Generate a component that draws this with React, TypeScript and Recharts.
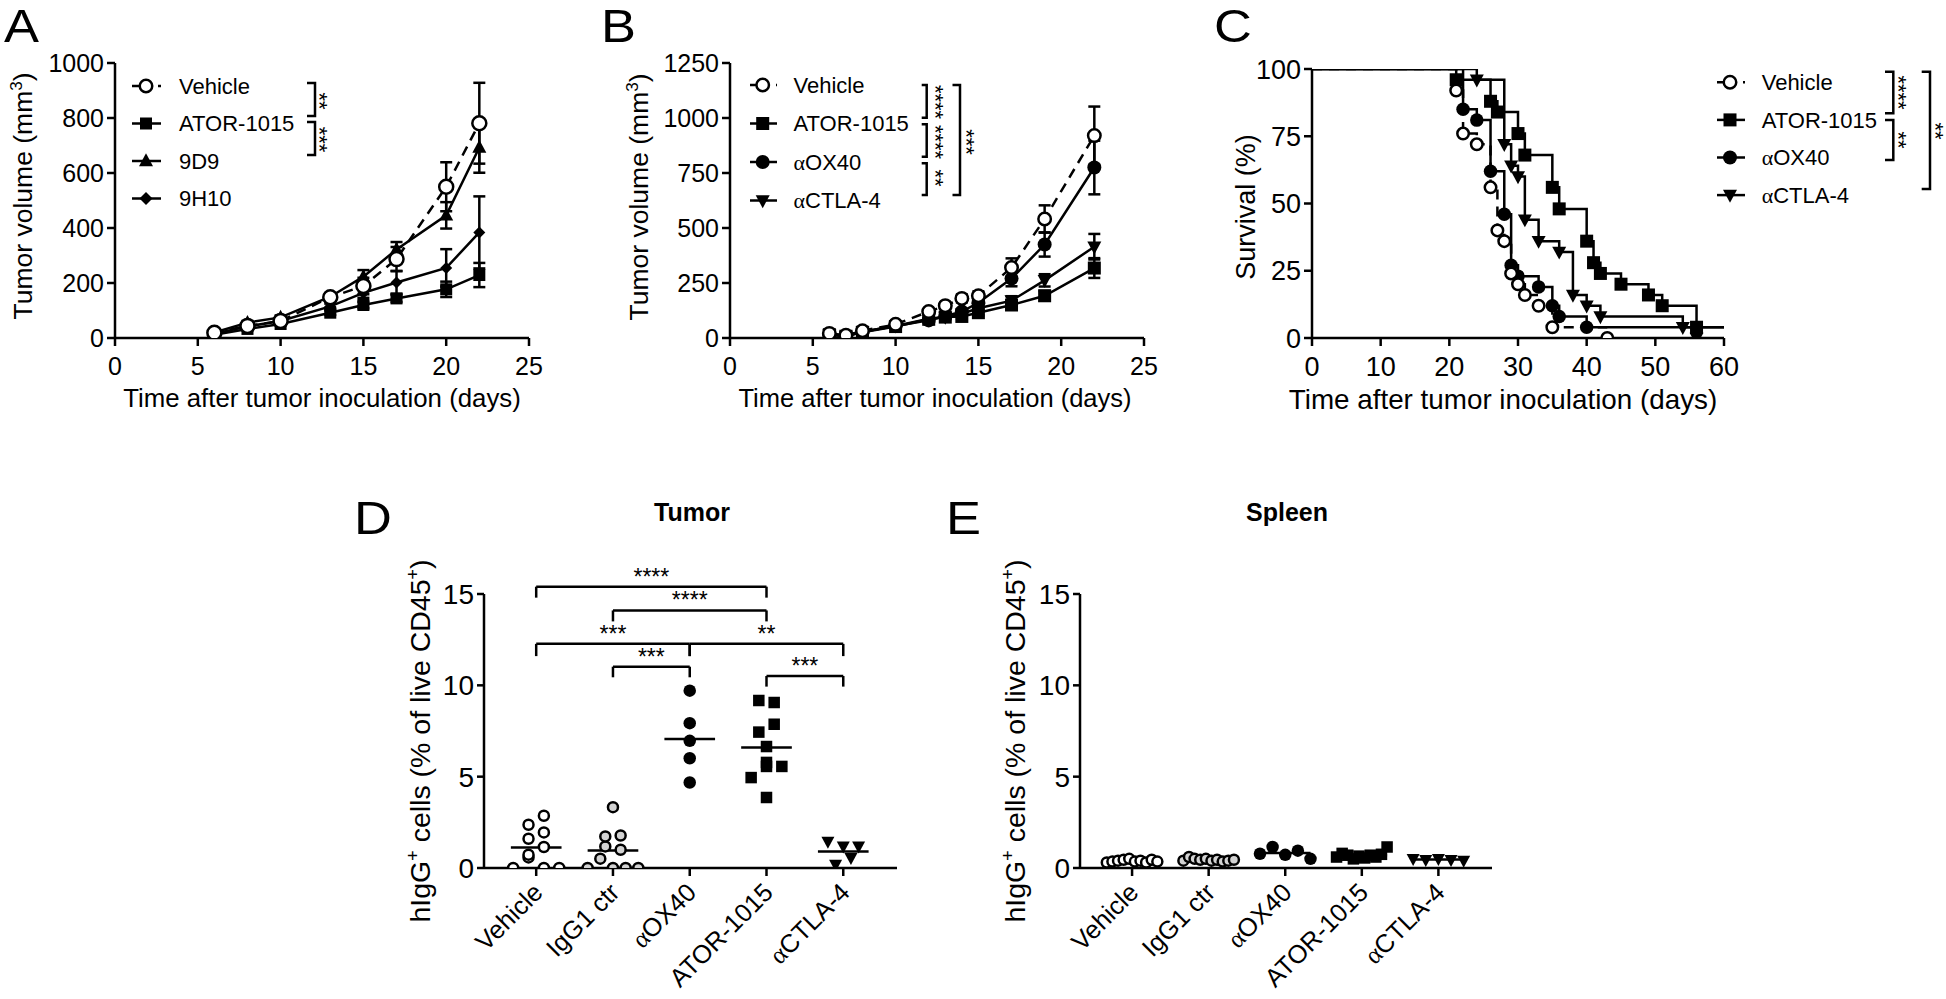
import React from 'react';
import { LineChart, Line, XAxis, YAxis, ErrorBar, ScatterChart, Scatter, ReferenceLine, Legend } from 'recharts';

const FONT = '"Liberation Sans", Arial, Helvetica, sans-serif';
const SERIF = '"Liberation Serif", "Times New Roman", serif';
const SW = 2.5;
const INK = '#000';

// ===== Panel A : tumour volume (mean ± SEM) =====
const daysA = [6, 8, 10, 13, 15, 17, 20, 22];
const vehicleA = [19, 44, 62, 148, 189, 287, 550, 781];
const vehicleAErr = [3, 5, 6, 12, 30, 44, 89, 147];
const atorA = [12, 33, 51, 92, 120, 144, 177, 229];
const atorAErr = [2, 4, 5, 8, 12, 13, 28, 44];
const d9A = [20, 56, 75, 150, 223, 322, 446, 693];
const d9AErr = [3, 6, 7, 12, 24, 27, 48, 92];
const h10A = [16, 42, 62, 115, 164, 202, 255, 384];
const h10AErr = [2, 5, 6, 10, 18, 42, 68, 131];
const xTicksAB = [0, 5, 10, 15, 20, 25];
const yTicksA = [0, 200, 400, 600, 800, 1000];

// ===== Panel B =====
const daysB = [6, 7, 8, 10, 12, 13, 14, 15, 17, 19, 22];
const vehicleB = [21, 12, 33, 62, 120, 147, 180, 192, 320, 541, 920];
const vehicleBErr = [4, 3, 5, 8, 12, 15, 18, 20, 42, 62, 132];
const atorB = [15, 8, 26, 52, 85, 95, 98, 115, 150, 192, 318];
const atorBErr = [3, 2, 4, 6, 8, 10, 10, 12, 18, 22, 45];
const ox40B = [16, 9, 28, 55, 80, 100, 120, 160, 270, 425, 775];
const ox40BErr = [3, 2, 4, 6, 8, 10, 12, 18, 35, 55, 122];
const ctla4B = [16, 9, 28, 55, 88, 95, 110, 135, 170, 262, 415];
const ctla4BErr = [3, 2, 4, 6, 8, 10, 12, 14, 20, 28, 58];
const yTicksB = [0, 250, 500, 750, 1000, 1250];

// ===== Panel C : survival =====
const vehicleCDays = [0, 21, 22, 24, 26, 27, 28, 29, 30, 31, 33, 35, 43];
const vehicleCSurv = [100, 92, 76, 72, 56, 40, 36, 24, 20, 16, 12, 4, 0];
const atorCDays = [0, 21, 26, 27, 30, 31, 35, 36, 40, 41, 42, 45, 49, 51, 56, 60];
const atorCSurv = [100, 96, 88, 84, 76, 68, 56, 48, 36, 28, 24, 20, 16, 12, 4, 4];
const ox40CDays = [0, 22, 24, 26, 28, 29, 30, 33, 35, 36, 40, 60];
const ox40CSurv = [100, 85, 81, 62, 46, 27, 23, 19, 12, 8, 4, 4];
const ctla4CDays = [0, 24, 28, 29, 30, 31, 33, 36, 38, 40, 42, 54, 56];
const ctla4CSurv = [100, 96, 72, 64, 60, 44, 36, 32, 16, 12, 8, 4, 0];
const xTicksC = [0, 10, 20, 30, 40, 50, 60];
const yTicksC = [0, 25, 50, 75, 100];

// ===== Panels D / E : hIgG+ cells =====
const groupsDE = ['Vehicle', 'IgG1 ctr', 'αOX40', 'ATOR-1015', 'αCTLA-4'];
const tumorVehicle = [0, 0.58, 0, 0, 0.73, 1.15, 1.6, 1.95, 2.37, 2.86];
const tumorIgG1 = [0, 0.51, 0, 0, 0, 1.18, 1.0, 1.73, 1.78, 3.33];
const tumorOX40 = [4.68, 6.01, 6.96, 7.93, 9.71];
const tumorATOR = [3.86, 4.95, 5.56, 5.78, 5.56, 6.65, 7.44, 7.87, 9.17, 9.06];
const tumorCTLA4 = [1.45, 1.18, 1.18, 0.18, 0.55];
const spleenVehicle = [0.3, 0.35, 0.4, 0.45, 0.5, 0.35, 0.4, 0.3, 0.45, 0.35];
const spleenIgG1 = [0.4, 0.6, 0.5, 0.45, 0.5, 0.4, 0.45, 0.35, 0.4, 0.45];
const spleenOX40 = [0.78, 1.15, 0.72, 0.95, 0.5];
const spleenATOR = [0.6, 0.8, 0.7, 0.5, 0.65, 0.55, 0.7, 0.6, 0.75, 1.15];
const spleenCTLA4 = [0.5, 0.45, 0.5, 0.45, 0.4];
const yTicksDE = [0, 5, 10, 15];
const tumorSig = [
  { from: 0, to: 3, top: 15.4, leg: 14.8, stars: '****' },
  { from: 1, to: 3, top: 14.1, leg: 13.5, stars: '****' },
  { from: 0, to: 2, top: 12.27, leg: 11.6, stars: '***' },
  { from: 2, to: 4, top: 12.27, leg: 11.6, stars: '**' },
  { from: 1, to: 2, top: 11.02, leg: 10.44, stars: '***' },
  { from: 3, to: 4, top: 10.51, leg: 9.93, stars: '***' },
];

type Kind = 'open' | 'filled' | 'grey' | 'square' | 'triUp' | 'triDown' | 'diamond';

function Mark({ kind, cx, cy, s }: { kind: Kind; cx: number; cy: number; s: number }) {
  const h = s / 2;
  switch (kind) {
    case 'open':
      return <circle cx={cx} cy={cy} r={h - SW / 2} fill="#fff" stroke={INK} strokeWidth={SW} />;
    case 'grey':
      return <circle cx={cx} cy={cy} r={h - SW / 2} fill="#d2d2d2" stroke={INK} strokeWidth={SW} />;
    case 'filled':
      return <circle cx={cx} cy={cy} r={h} fill={INK} />;
    case 'square':
      return <rect x={cx - h} y={cy - h} width={s} height={s} fill={INK} />;
    case 'triUp':
      return <polygon points={`${cx},${cy - h * 1.1} ${cx - h},${cy + h * 0.75} ${cx + h},${cy + h * 0.75}`} fill={INK} />;
    case 'triDown':
      return <polygon points={`${cx},${cy + h * 1.1} ${cx - h},${cy - h * 0.75} ${cx + h},${cy - h * 0.75}`} fill={INK} />;
    case 'diamond':
      return <polygon points={`${cx},${cy - h} ${cx + h},${cy} ${cx},${cy + h} ${cx - h},${cy}`} fill={INK} />;
  }
  return null;
}

function nameNodes(name: string) {
  if (name.startsWith('α')) return [<tspan key="a" fontFamily={SERIF}>α</tspan>, <tspan key="b">{name.slice(1)}</tspan>];
  return name;
}

const rowsOf = (days: number[], v: number[], e?: number[]) =>
  days.map((d, i) => ({ day: d, v: v[i], e: e ? e[i] : 0 }));

const makeDot = (kind: Kind, size: number, skip?: number[]) => (p: any) => {
  const k = `d-${p.index}`;
  if (p.cx == null || p.cy == null) return <g key={k} />;
  if (skip && skip.includes(p.payload.day)) return <g key={k} />;
  return <Mark key={k} kind={kind} cx={p.cx} cy={p.cy} s={size} />;
};

type LegItem = { name: string; kind: Kind; dashed?: boolean; ms: number };
type LegSpec = {
  left: number; top: number; w: number; h: number;
  mx: number; lx1: number; lx2: number; tx: number; row0: number; gap: number;
  items: LegItem[];
  brackets: { x: number; y1: number; y2: number; tick: number }[];
  stars: { cx: number; cy: number; text: string }[];
};

function LegendSvg({ spec }: { spec: LegSpec }) {
  return (
    <svg width={spec.w} height={spec.h} style={{ display: 'block', overflow: 'visible' }}>
      {spec.items.map((it, i) => {
        const y = spec.row0 + i * spec.gap;
        return (
          <g key={it.name}>
            <line x1={spec.lx1} x2={spec.lx2} y1={y} y2={y} stroke={INK} strokeWidth={SW}
              strokeDasharray={it.dashed ? '7 6' : undefined} />
            <Mark kind={it.kind} cx={spec.mx} cy={y} s={it.ms} />
            <text x={spec.tx} y={y + 7.8} fontSize={22} fontFamily={FONT} fill={INK}>{nameNodes(it.name)}</text>
          </g>
        );
      })}
      {spec.brackets.map((b, i) => (
        <path key={`b${i}`} d={`M${b.x - b.tick},${b.y1} H${b.x} V${b.y2} H${b.x - b.tick}`} fill="none" stroke={INK} strokeWidth={SW} />
      ))}
      {spec.stars.map((s, i) => {
        const bx = s.cx - 12.5;
        return (
          <text key={`s${i}`} x={bx} y={s.cy} transform={`rotate(90 ${bx} ${s.cy})`} textAnchor="middle"
            fontSize={22} fontFamily={FONT} fill={INK}>{s.text}</text>
        );
      })}
    </svg>
  );
}

type Series = { name: string; rows: any[]; kind: Kind; size: number; dashed?: boolean };

const axisLineStyle = { stroke: INK, strokeWidth: SW };
const tickFont = { fill: INK, fontSize: 25, fontFamily: FONT };

function CurvePanel(props: {
  left: number; width: number; margin: any; xDomain: number[]; xTicks: number[]; yDomain: number[]; yTicks: number[];
  series: Series[]; step?: boolean; legend: LegSpec; yTitle: React.ReactElement; xTitle: React.ReactElement; tickSize?: number;
}) {
  const { left, width, margin, xDomain, xTicks, yDomain, yTicks, series, step, legend, yTitle, xTitle } = props;
  const tf = { ...tickFont, fontSize: props.tickSize || 25 };
  return (
    <div style={{ position: 'absolute', left, top: 0 }}>
      <LineChart width={width} height={440} margin={margin}>
        <XAxis type="number" dataKey="day" domain={xDomain} ticks={xTicks} interval={0} allowDataOverflow height={60}
          tickSize={8} tickMargin={11} axisLine={axisLineStyle} tickLine={axisLineStyle} tick={tf}
          label={{ value: 'x', content: () => xTitle }} />
        <YAxis type="number" domain={yDomain} ticks={yTicks} interval={0} allowDataOverflow width={80}
          tickSize={8} tickMargin={3} axisLine={axisLineStyle} tickLine={axisLineStyle} tick={tf}
          label={{ value: 'y', content: () => yTitle }} />
        {series.map((s) => (
          <Line key={s.name} name={s.name} data={s.rows} dataKey="v" type={step ? 'stepAfter' : 'linear'}
            stroke={INK} strokeWidth={SW} strokeDasharray={s.dashed ? '10 7' : undefined}
            isAnimationActive={false} activeDot={false}
            dot={makeDot(s.kind, s.size, step ? [xDomain[0], xDomain[1]] : undefined)}>
            {!step && <ErrorBar dataKey="e" width={6} stroke={INK} strokeWidth={SW} direction="y" />}
          </Line>
        ))}
        <Legend layout="vertical" align="center" verticalAlign="middle"
          wrapperStyle={{ left: legend.left, top: legend.top, width: legend.w, height: legend.h }}
          content={() => <LegendSvg spec={legend} />} />
      </LineChart>
    </div>
  );
}

function swarm(values: number[], center: number, rowH: number, step: number, maxHalf: number) {
  const order = values.map((_, i) => i).sort((a, b) => values[a] - values[b] || a - b);
  const rows: number[][] = [];
  let start = -Infinity;
  order.forEach((i) => {
    if (rows.length === 0 || values[i] - start >= rowH) {
      rows.push([i]);
      start = values[i];
    } else rows[rows.length - 1].push(i);
  });
  const xs = values.map(() => center);
  rows.forEach((r) => {
    r.sort((a, b) => a - b);
    const n = r.length;
    const sp = n > 1 ? Math.min(step, (2 * maxHalf) / (n - 1)) : 0;
    r.forEach((i, k) => { xs[i] = center + (k - (n - 1) / 2) * sp; });
  });
  return values.map((v, i) => ({ x: xs[i], y: v }));
}

const mean = (a: number[]) => a.reduce((s, v) => s + v, 0) / a.length;

const CatTick = (p: any) => {
  const name = groupsDE[p.payload.value];
  const x = p.x + 8;
  const y = p.y + 16;
  return (
    <text x={x} y={y} transform={`rotate(-45 ${x} ${y})`} textAnchor="end" fontSize={25.5} fontFamily={FONT} fill={INK}>
      {nameNodes(name)}
    </text>
  );
};

const kindsDE: Kind[] = ['open', 'grey', 'filled', 'square', 'triDown'];
const sizesDE = [12.5, 12.5, 12.5, 11.5, 13];

function DotPanel(props: { left: number; width: number; margin: any; groups: number[][]; sig: any[]; yTitle: React.ReactElement }) {
  const { left, width, margin, groups, sig, yTitle } = props;
  return (
    <div style={{ position: 'absolute', left, top: 480 }}>
      <ScatterChart width={width} height={519} margin={margin}>
        <XAxis type="number" dataKey="x" domain={[-0.68, 4.7]} ticks={[0, 1, 2, 3, 4]} interval={0} allowDataOverflow
          height={100} tickSize={8} tickMargin={2} axisLine={axisLineStyle} tickLine={axisLineStyle}
          tick={(p: any) => <CatTick {...p} />} />
        <YAxis type="number" dataKey="y" domain={[0, 15]} ticks={yTicksDE} interval={0} allowDataOverflow width={60}
          tickSize={7} tickMargin={3} axisLine={axisLineStyle} tickLine={axisLineStyle}
          tick={{ ...tickFont, fontSize: 28 }} label={{ value: 'y', content: () => yTitle }} />
        {groups.map((vals, gi) => (
          <Scatter key={groupsDE[gi]} name={groupsDE[gi]} data={swarm(vals, gi, 0.656, 0.2, 0.33)} isAnimationActive={false}
            shape={(p: any) => <Mark kind={kindsDE[gi]} cx={p.cx} cy={p.cy} s={sizesDE[gi]} />} />
        ))}
        {groups.map((vals, gi) => (
          <ReferenceLine key={`m${gi}`} segment={[{ x: gi - 0.33, y: mean(vals) }, { x: gi + 0.33, y: mean(vals) }]}
            stroke={INK} strokeWidth={SW} ifOverflow="visible" />
        ))}
        {sig.map((b, i) => [
          <ReferenceLine key={`l${i}`} segment={[{ x: b.from, y: b.leg }, { x: b.from, y: b.top }]} stroke={INK} strokeWidth={SW} ifOverflow="visible" />,
          <ReferenceLine key={`t${i}`} segment={[{ x: b.from, y: b.top }, { x: b.to, y: b.top }]} stroke={INK} strokeWidth={SW} ifOverflow="visible"
            label={{
              value: b.stars,
              content: (lp: any) => {
                const vb = lp.viewBox || { x: 0, y: 0, width: 0 };
                return (
                  <text x={vb.x + vb.width / 2} y={vb.y - 2} textAnchor="middle" fontSize={23} fontFamily={FONT} fill={INK}>
                    {b.stars}
                  </text>
                );
              },
            }} />,
          <ReferenceLine key={`r${i}`} segment={[{ x: b.to, y: b.top }, { x: b.to, y: b.leg }]} stroke={INK} strokeWidth={SW} ifOverflow="visible" />,
        ])}
      </ScatterChart>
    </div>
  );
}

const tumorTitle = (x: number, y: number) => (
  <text x={x} y={y} transform={`rotate(-90 ${x} ${y})`} textAnchor="middle" fontSize={26.5} fontFamily={FONT} fill={INK}>
    Tumor volume (mm<tspan dy={-10} fontSize={17}>3</tspan><tspan dy={10}>)</tspan>
  </text>
);
const timeTitle = (x: number, y: number, fs: number) => (
  <text x={x} y={y} textAnchor="middle" fontSize={fs} fontFamily={FONT} fill={INK}>Time after tumor inoculation (days)</text>
);
const igTitle = (x: number, y: number) => (
  <text x={x} y={y} transform={`rotate(-90 ${x} ${y})`} textAnchor="middle" fontSize={28.5} fontFamily={FONT} fill={INK}>
    hIgG<tspan dy={-11} fontSize={18}>+</tspan><tspan dy={11}> cells (% of live CD45</tspan>
    <tspan dy={-11} fontSize={18}>+</tspan><tspan dy={11}>)</tspan>
  </text>
);

const legItemsA: LegItem[] = [
  { name: 'Vehicle', kind: 'open', dashed: true, ms: 15 },
  { name: 'ATOR-1015', kind: 'square', ms: 12 },
  { name: '9D9', kind: 'triUp', ms: 14 },
  { name: '9H10', kind: 'diamond', ms: 13 },
];
const legItemsBC: LegItem[] = [
  { name: 'Vehicle', kind: 'open', dashed: true, ms: 15 },
  { name: 'ATOR-1015', kind: 'square', ms: 13 },
  { name: 'αOX40', kind: 'filled', ms: 14 },
  { name: 'αCTLA-4', kind: 'triDown', ms: 14 },
];

const PanelLetter = ({ x, y, c }: { x: number; y: number; c: string }) => (
  <text transform={`translate(${x} ${y}) scale(1.14 1)`} x={0} y={0} fontSize={46}>{c}</text>
);

export default function App() {
  const legendA: LegSpec = {
    left: 120, top: 60, w: 240, h: 160, mx: 26, lx1: 12, lx2: 41, tx: 59, row0: 26, gap: 37.5, items: legItemsA,
    brackets: [{ x: 195, y1: 23, y2: 56, tick: 8 }, { x: 195, y1: 62, y2: 95, tick: 8 }],
    stars: [{ cx: 204.5, cy: 41, text: '**' }, { cx: 204.5, cy: 79.5, text: '***' }],
  };
  const legendB: LegSpec = {
    left: 160, top: 60, w: 260, h: 160, mx: 22.7, lx1: 10, lx2: 37, tx: 53.5, row0: 25, gap: 38.5, items: legItemsBC,
    brackets: [
      { x: 186.7, y1: 25, y2: 57.7, tick: 5 }, { x: 186.7, y1: 64.3, y2: 96.7, tick: 5 },
      { x: 186.7, y1: 103.3, y2: 135, tick: 5 }, { x: 220, y1: 25, y2: 135, tick: 7.5 },
    ],
    stars: [
      { cx: 200, cy: 42, text: '****' }, { cx: 200, cy: 82, text: '****' },
      { cx: 200, cy: 118, text: '**' }, { cx: 231.7, cy: 82, text: '***' },
    ],
  };
  const legendC: LegSpec = {
    left: 505, top: 60, w: 241, h: 150, mx: 25, lx1: 12, lx2: 40, tx: 56.7, row0: 22.3, gap: 37.6, items: legItemsBC,
    brackets: [
      { x: 188.3, y1: 11.7, y2: 53.3, tick: 8.3 }, { x: 188.3, y1: 60, y2: 100, tick: 8.3 },
      { x: 225, y1: 11.7, y2: 129, tick: 8.3 },
    ],
    stars: [{ cx: 198, cy: 32.5, text: '****' }, { cx: 198, cy: 80, text: '**' }, { cx: 235, cy: 71, text: '**' }],
  };

  const seriesA: Series[] = [
    { name: 'ATOR-1015', rows: rowsOf(daysA, atorA, atorAErr), kind: 'square', size: 12 },
    { name: '9H10', rows: rowsOf(daysA, h10A, h10AErr), kind: 'diamond', size: 12 },
    { name: '9D9', rows: rowsOf(daysA, d9A, d9AErr), kind: 'triUp', size: 14 },
    { name: 'Vehicle', rows: rowsOf(daysA, vehicleA, vehicleAErr), kind: 'open', size: 16.5, dashed: true },
  ];
  const seriesB: Series[] = [
    { name: 'ATOR-1015', rows: rowsOf(daysB, atorB, atorBErr), kind: 'square', size: 13 },
    { name: 'αCTLA-4', rows: rowsOf(daysB, ctla4B, ctla4BErr), kind: 'triDown', size: 14 },
    { name: 'αOX40', rows: rowsOf(daysB, ox40B, ox40BErr), kind: 'filled', size: 14 },
    { name: 'Vehicle', rows: rowsOf(daysB, vehicleB, vehicleBErr), kind: 'open', size: 15, dashed: true },
  ];
  const seriesC: Series[] = [
    { name: 'ATOR-1015', rows: rowsOf(atorCDays, atorCSurv), kind: 'square', size: 13 },
    { name: 'αCTLA-4', rows: rowsOf(ctla4CDays, ctla4CSurv), kind: 'triDown', size: 14 },
    { name: 'αOX40', rows: rowsOf(ox40CDays, ox40CSurv), kind: 'filled', size: 13.5 },
    { name: 'Vehicle', rows: rowsOf(vehicleCDays, vehicleCSurv), kind: 'open', size: 14, dashed: true },
  ];

  return (
    <div style={{ position: 'absolute', left: 0, top: 0, width: 1946, height: 999, background: '#fff', overflow: 'hidden', fontFamily: FONT }}>
      <CurvePanel left={0} width={560} margin={{ top: 63, right: 31, bottom: 42, left: 35 }}
        xDomain={[0, 25]} xTicks={xTicksAB} yDomain={[0, 1000]} yTicks={yTicksA} series={seriesA} legend={legendA}
        yTitle={tumorTitle(32, 196)} xTitle={timeTitle(322, 407, 25.8)} />
      <CurvePanel left={580} width={580} margin={{ top: 63, right: 16, bottom: 42, left: 70 }}
        xDomain={[0, 25]} xTicks={xTicksAB} yDomain={[0, 1250]} yTicks={yTicksB} series={seriesB} legend={legendB}
        yTitle={tumorTitle(68, 197)} xTitle={timeTitle(355, 407, 25.5)} />
      <CurvePanel left={1200} width={746} margin={{ top: 69, right: 222, bottom: 42, left: 32 }} step tickSize={27}
        xDomain={[0, 60]} xTicks={xTicksC} yDomain={[0, 100]} yTicks={yTicksC} series={seriesC} legend={legendC}
        yTitle={
          <text x={55} y={207} transform="rotate(-90 55 207)" textAnchor="middle" fontSize={27} fontFamily={FONT} fill={INK}>Survival (%)</text>
        }
        xTitle={timeTitle(303, 409, 27.8)} />
      <DotPanel left={340} width={570} margin={{ top: 114, right: 13, bottom: 31, left: 84 }}
        groups={[tumorVehicle, tumorIgG1, tumorOX40, tumorATOR, tumorCTLA4]} sig={tumorSig} yTitle={igTitle(90, 261)} />
      <DotPanel left={930} width={580} margin={{ top: 114, right: 18, bottom: 31, left: 90 }}
        groups={[spleenVehicle, spleenIgG1, spleenOX40, spleenATOR, spleenCTLA4]} sig={[]} yTitle={igTitle(95, 261)} />
      <svg width={1946} height={999} style={{ position: 'absolute', left: 0, top: 0, pointerEvents: 'none' }}>
        <g fontFamily={FONT} fill={INK}>
          <PanelLetter x={4} y={42} c="A" />
          <PanelLetter x={601} y={42} c="B" />
          <PanelLetter x={1214} y={42} c="C" />
          <PanelLetter x={354} y={534} c="D" />
          <PanelLetter x={946} y={534} c="E" />
          <text x={692} y={521} fontSize={25} fontWeight="bold" textAnchor="middle">Tumor</text>
          <text x={1287} y={521} fontSize={25} fontWeight="bold" textAnchor="middle">Spleen</text>
        </g>
      </svg>
    </div>
  );
}
